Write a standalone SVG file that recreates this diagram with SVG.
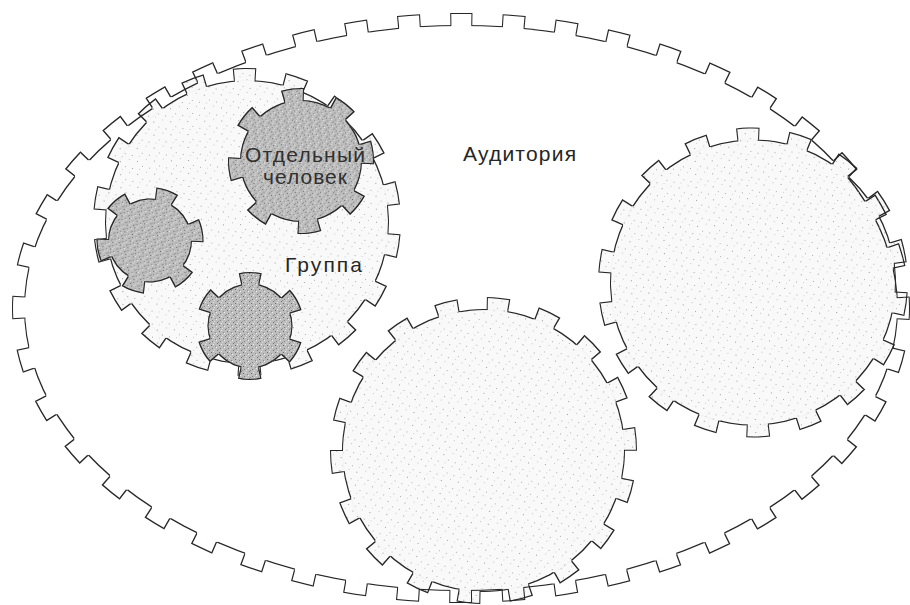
<svg xmlns="http://www.w3.org/2000/svg" xmlns:xlink="http://www.w3.org/1999/xlink" width="910" height="605" viewBox="0 0 910 605">
  <style>
    .root { stroke: none; }
    .teeth { fill: none; stroke-linecap: butt; }
    .label { font-family: "Liberation Sans", Arial, "Noto Sans", sans-serif; font-size: 21px; fill: #262626; }
    .label-dark { fill: #303030; }
  </style>
  <defs>
    <!-- fine grain textures -->
    <pattern id="grain-dark" width="8" height="7" patternUnits="userSpaceOnUse">
      <rect width="8" height="7" fill="#bdbdbd"/>
      <rect x="1" y="0" width="1" height="1" fill="#777"/>
      <rect x="5" y="1" width="1" height="1" fill="#e8e8e8"/>
      <rect x="3" y="2" width="1" height="1" fill="#6c6c6c"/>
      <rect x="7" y="3" width="1" height="1" fill="#8a8a8a"/>
      <rect x="0" y="4" width="1" height="1" fill="#eeeeee"/>
      <rect x="4" y="5" width="1" height="1" fill="#7e7e7e"/>
      <rect x="6" y="6" width="1" height="1" fill="#dddddd"/>
      <rect x="2" y="6" width="1" height="1" fill="#949494"/>
    </pattern>
    <pattern id="grain-light" width="17" height="13" patternUnits="userSpaceOnUse">
      <rect width="17" height="13" fill="#000" fill-opacity="0.025"/>
      <rect x="2" y="3" width="1" height="1" fill="#9a9a9a"/>
      <rect x="11" y="1" width="1" height="1" fill="#c4c4c4"/>
      <rect x="7" y="8" width="1" height="1" fill="#b0b0b0"/>
      <rect x="14" y="10" width="1" height="1" fill="#a8a8a8"/>
      <rect x="4" y="11" width="1" height="1" fill="#cfcfcf"/>
    </pattern>

    <!-- turns a solid silhouette into its thin contour -->
    <filter id="edge" filterUnits="userSpaceOnUse" x="-20" y="-20" width="950" height="645" color-interpolation-filters="sRGB">
      <feMorphology in="SourceAlpha" operator="erode" radius="1.3" result="inner"/>
      <feComposite in="SourceAlpha" in2="inner" operator="out" result="ring"/>
      <feFlood flood-color="#262626"/>
      <feComposite in2="ring" operator="in"/>
    </filter>

    <!-- gear silhouettes: root body + dashed ring of teeth -->
    <g id="shape-audience">
      <ellipse class="root" cx="461" cy="308" rx="437" ry="283"/>
      <path class="teeth" d="M461 19.5A442.5 288.5 0 1 1 461 596.5A442.5 288.5 0 1 1 461 19.5Z" stroke-width="13" stroke-dasharray="23 29.774" stroke-dashoffset="11.5"/>
    </g>
    <g id="shape-group" transform="rotate(-1 247 222)">
      <circle class="root" cx="247" cy="222" r="142"/>
      <path class="teeth" d="M247 74.5A147.5 147.5 0 1 1 247 369.5A147.5 147.5 0 1 1 247 74.5Z" stroke-width="13" stroke-dasharray="23 28.487" stroke-dashoffset="11.5"/>
    </g>
    <g id="shape-right" transform="rotate(-2 753 282.5)">
      <circle class="root" cx="753" cy="282.5" r="143"/>
      <path class="teeth" d="M753 134A148.5 148.5 0 1 1 753 431A148.5 148.5 0 1 1 753 134Z" stroke-width="13" stroke-dasharray="23 28.836" stroke-dashoffset="11.5"/>
    </g>
    <g id="shape-bottom" transform="rotate(5.6 483.5 450.5)">
      <circle class="root" cx="483.5" cy="450.5" r="141.5"/>
      <path class="teeth" d="M483.5 303.5A147 147 0 1 1 483.5 597.5A147 147 0 1 1 483.5 303.5Z" stroke-width="13" stroke-dasharray="23 28.313" stroke-dashoffset="11.5"/>
    </g>
    <g id="shape-person" transform="rotate(-7 301 161)">
      <circle class="root" cx="301" cy="161" r="61"/>
      <path class="teeth" d="M301 94.5A66.5 66.5 0 1 1 301 227.5A66.5 66.5 0 1 1 301 94.5Z" stroke-width="13" stroke-dasharray="22 30.229" stroke-dashoffset="11"/>
    </g>
    <g id="shape-left" transform="rotate(19 150 240.5)">
      <circle class="root" cx="150" cy="240.5" r="42"/>
      <path class="teeth" d="M150 193.25A47.25 47.25 0 1 1 150 287.75A47.25 47.25 0 1 1 150 193.25Z" stroke-width="12.5" stroke-dasharray="21 28.48" stroke-dashoffset="10.5"/>
    </g>
    <g id="shape-lower" transform="rotate(0 250 326)">
      <circle class="root" cx="250" cy="326" r="42.5"/>
      <path class="teeth" d="M250 278.25A47.75 47.75 0 1 1 250 373.75A47.75 47.75 0 1 1 250 278.25Z" stroke-width="12.5" stroke-dasharray="21 29.004" stroke-dashoffset="10.5"/>
    </g>
  </defs>

  <rect width="910" height="605" fill="#fff"/>

  <!-- outer audience gear: contour only -->
  <g id="audience">
    <use href="#shape-audience" fill="#000" stroke="#000" filter="url(#edge)"/>
  </g>

  <g id="group-gear">
    <use href="#shape-group" fill="url(#grain-light)" stroke="url(#grain-light)"/>
    <use href="#shape-group" fill="#000" stroke="#000" filter="url(#edge)"/>
  </g>

  <g id="gear-right">
    <use href="#shape-right" fill="url(#grain-light)" stroke="url(#grain-light)"/>
    <use href="#shape-right" fill="#000" stroke="#000" filter="url(#edge)"/>
  </g>

  <g id="gear-bottom">
    <use href="#shape-bottom" fill="url(#grain-light)" stroke="url(#grain-light)"/>
    <use href="#shape-bottom" fill="#000" stroke="#000" filter="url(#edge)"/>
  </g>

  <g id="person-gear">
    <use href="#shape-person" fill="url(#grain-dark)" stroke="url(#grain-dark)"/>
    <use href="#shape-person" fill="#000" stroke="#000" filter="url(#edge)"/>
  </g>

  <g id="member-left">
    <use href="#shape-left" fill="url(#grain-dark)" stroke="url(#grain-dark)"/>
    <use href="#shape-left" fill="#000" stroke="#000" filter="url(#edge)"/>
  </g>

  <g id="member-lower">
    <use href="#shape-lower" fill="url(#grain-dark)" stroke="url(#grain-dark)"/>
    <use href="#shape-lower" fill="#000" stroke="#000" filter="url(#edge)"/>
  </g>

  <!-- labels -->
  <g id="labels">
    <text class="label label-dark" x="245" y="162" textLength="120">Отдельный</text>
    <text class="label label-dark" x="263" y="184" textLength="84">человек</text>
    <text class="label" x="463" y="161" textLength="113">Аудитория</text>
    <text class="label" x="285" y="272" textLength="77">Группа</text>
  </g>
</svg>
